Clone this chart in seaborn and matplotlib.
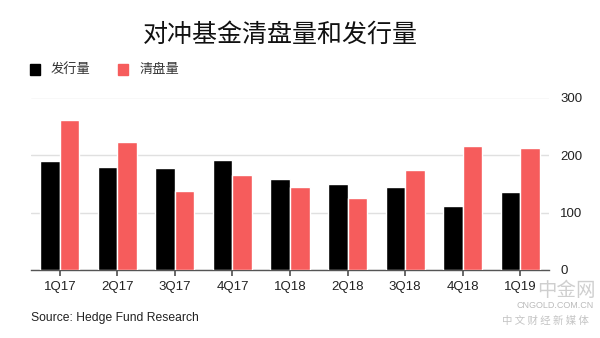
import matplotlib
matplotlib.use("Agg")
import matplotlib.pyplot as plt
import seaborn as sns
import pandas as pd
from matplotlib.patches import Rectangle

quarters = ["1Q17", "2Q17", "3Q17", "4Q17", "1Q18", "2Q18", "3Q18", "4Q18", "1Q19"]
launches = [190, 180, 177, 191, 158, 149, 144, 111, 136]      # 发行量
liquidations = [260, 222, 137, 166, 145, 125, 174, 216, 213]  # 清盘量
series_names = ["发行量", "清盘量"]
y_ticks = [0, 100, 200, 300]

df = pd.DataFrame({
    "quarter": quarters * 2,
    "value": launches + liquidations,
    "series": [series_names[0]] * len(quarters) + [series_names[1]] * len(quarters),
})

sns.set_theme(style="white")
plt.rcParams["font.family"] = ["Noto Sans CJK SC", "DejaVu Sans"]

RED = "#f65c5c"
fig = plt.figure(figsize=(6, 3.38), dpi=100)
ax = fig.add_axes([31 / 600, 68 / 338, (549 - 31) / 600, (270 - 97.5) / 338])

palette = {series_names[0]: "#000000", series_names[1]: RED}
sns.barplot(data=df, x="quarter", y="value", hue="series", palette=palette,
            width=0.68, saturation=1, ax=ax, legend=False, zorder=3)

ax.set_ylim(0, 300)
ax.set_xlim(-0.5, 8.5)
ax.set_yticks(y_ticks)
ax.yaxis.tick_right()
ax.yaxis.grid(True, color="#e0e0e0", linewidth=1, zorder=0)
ax.set_axisbelow(True)
for s in ["top", "left", "right"]:
    ax.spines[s].set_visible(False)
ax.spines["bottom"].set_color("#555555")
ax.spines["bottom"].set_linewidth(1)
ax.tick_params(axis="x", bottom=True, length=4, color="#555555", labelsize=9.5,
               labelcolor="#222222", pad=4)
ax.tick_params(axis="y", right=True, length=0, labelsize=9.5, labelcolor="#222222", pad=8)
for lbl in ax.get_xticklabels() + ax.get_yticklabels():
    lbl.set_family(["Liberation Sans", "DejaVu Sans"])
ax.set_xlabel("")
ax.set_ylabel("")

fig.text(280 / 600, 1 - 35 / 338, "对冲基金清盘量和发行量", ha="center", va="center",
         fontsize=18, color="#111111")

# legend
fig.patches.append(Rectangle((30 / 600, 1 - 75 / 338), 10 / 600, 11 / 338,
                             transform=fig.transFigure, color="#000000"))
fig.text(51 / 600, 1 - 69 / 338, series_names[0], va="center", fontsize=9.5, color="#333333")
fig.patches.append(Rectangle((118 / 600, 1 - 75 / 338), 10 / 600, 11 / 338,
                             transform=fig.transFigure, color=RED))
fig.text(140 / 600, 1 - 69 / 338, series_names[1], va="center", fontsize=9.5, color="#333333")

fig.text(31 / 600, 1 - 318 / 338, "Source: Hedge Fund Research", va="center",
         fontsize=8.7, color="#222222", family=["Liberation Sans", "DejaVu Sans"])

# watermark
fig.text(566 / 600, 1 - 290 / 338, "中金网", ha="center", va="center", fontsize=14,
         color="#bbbbbb", alpha=0.7)
fig.text(555 / 600, 1 - 306 / 338, "CNGOLD.COM.CN", ha="center", va="center", fontsize=6.5,
         color="#bbbbbb", family=["Liberation Sans", "DejaVu Sans"])
fig.text(545 / 600, 1 - 321 / 338, "中 文 财 经 新 媒 体", ha="center", va="center", fontsize=7.5,
         color="#c4c4c4")

fig.savefig("out.png", dpi=100, facecolor="white")
